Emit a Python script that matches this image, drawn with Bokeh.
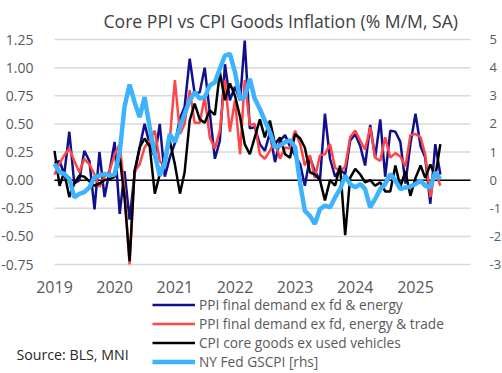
import pandas as pd
from bokeh.plotting import figure
from bokeh.models import (Range1d, LinearAxis, FixedTicker, NumeralTickFormatter,
                          DatetimeTickFormatter, Legend, LegendItem, Label)
from bokeh.embed import file_html
from bokeh.resources import INLINE

dates = pd.date_range("2019-01-01", periods=78, freq="MS")

ppi_core = [0.15, 0.17, 0.05, 0.43, -0.03, 0.0, 0.26, 0.17, -0.26, 0.25, -0.15, 0.08,
            0.34, -0.3, 0.08, -0.35, 0.05, 0.29, 0.5, 0.32, 0.2, 0.5, 0.03, 0.2,
            0.33, 0.55, 0.65, 1.08, 0.77, 0.78, 1.0, 0.6, 0.19, 0.35, 1.03, 0.71,
            0.83, 0.71, 1.24, 0.46, 0.47, 0.32, 0.26, 0.42, 0.16, 0.35, 0.4, 0.3,
            0.22, 0.14, -0.05, 0.2, 0.08, 0.0, 0.59, 0.19, 0.03, 0.1, 0.05, 0.35,
            0.41, 0.3, 0.13, 0.49, 0.2, 0.54, 0.03, 0.44, 0.43, 0.34, -0.03, 0.32,
            0.59, 0.3, 0.2, -0.21, 0.32, 0.05]

ppi_ex_trade = [0.05, 0.15, 0.22, 0.28, 0.17, 0.07, 0.19, 0.14, 0.05, -0.06, 0.03, 0.08,
                0.23, 0.32, -0.09, -0.75, 0.08, 0.14, 0.29, 0.35, 0.44, 0.17, 0.12, 0.36,
                0.89, 0.41, 0.5, 0.8, 0.51, 0.51, 0.74, 0.38, 0.28, 0.44, 0.89, 0.43,
                0.71, 0.23, 0.89, 0.49, 0.5, 0.23, 0.19, 0.26, 0.35, 0.19, 0.29, 0.28,
                0.44, 0.32, 0.13, 0.22, 0.02, 0.22, 0.23, 0.32, 0.11, 0.08, 0.12, 0.38,
                0.44, 0.35, 0.27, 0.47, 0.2, 0.17, 0.38, 0.2, 0.24, 0.21, 0.12, 0.4,
                0.41, 0.38, 0.23, -0.15, 0.08, -0.05]

cpi_goods = [0.26, -0.05, 0.07, -0.15, -0.03, 0.04, 0.03, -0.01, -0.05, -0.03, 0.0, 0.01,
             0.03, 0.2, -0.15, -0.72, 0.08, 0.29, 0.37, 0.3, -0.12, 0.05, 0.2, 0.35,
             0.14, -0.12, 0.07, 0.53, 0.68, 0.54, 0.51, 0.62, 0.58, 0.96, 0.71, 0.86,
             0.75, 0.56, 0.32, 0.23, 0.38, 0.54, 0.38, 0.53, 0.32, 0.38, 0.23, 0.2,
             0.41, 0.37, 0.29, 0.07, 0.05, 0.0, -0.18, 0.0, -0.05, 0.13, -0.49, 0.02,
             0.1, 0.05, -0.02, 0.0, -0.05, -0.02, -0.1, -0.1, 0.13, -0.06, 0.08, -0.14,
             0.02, 0.13, 0.02, 0.14, 0.03, 0.32]

gscpi = [0.58, 0.28, 0.22, 0.04, -0.61, -0.49, -0.43, -0.26, 0.1, 0.16, 0.22, 0.16,
         0.2, 1.0, 2.6, 3.4, 2.77, 2.24, 2.95, 1.88, 0.93, 0.16, 0.64, 1.64,
         1.35, 1.88, 2.36, 2.83, 3.13, 2.9, 2.95, 3.37, 3.48, 3.96, 4.43, 4.49,
         3.84, 2.89, 2.95, 3.6, 2.89, 2.53, 2.12, 1.7, 1.17, 1.23, 1.35, 1.41,
         1.17, -0.14, -1.09, -1.27, -1.56, -1.03, -0.91, -0.97, -0.61, -0.32, 0.16, -0.14,
         -0.26, -0.14, -0.32, -0.97, -0.67, -0.32, -0.14, 0.22, -0.02, -0.32, -0.26, -0.23,
         -0.14, -0.02, -0.2, -0.26, 0.28, 0.04]

year_ticks = pd.date_range("2019-01-01", "2025-01-01", freq="YS")
left_ticks = [-0.75, -0.5, -0.25, 0.0, 0.25, 0.5, 0.75, 1.0, 1.25]
right_ticks = [-3, -2, -1, 0, 1, 2, 3, 4, 5]

labels = ["PPI final demand ex fd & energy",
          "PPI final demand ex fd, energy & trade",
          "CPI core goods ex used vehicles",
          "NY Fed GSCPI [rhs]"]
colors = ["#10108c", "#ff4545", "#000000", "#3db3ff"]
widths = [2.5, 2.5, 2.5, 4.5]

FONT = "Open Sans"
GREY = "#595959"

W, H = 502, 373
# plot-area placement inside the canvas (pixels)
AX_L, AX_R, AX_T, AX_B = 54, 470, 39, 264

x_first = pd.Timestamp("2019-01-01")
x_last = pd.Timestamp("2025-12-01")
ppx = (x_last - x_first) / (AX_R - AX_L)
x_start = x_first - AX_L * ppx
x_end = x_last + (W - AX_R) * ppx

y_lo, y_hi = left_ticks[0], left_ticks[-1]
ppy = (y_hi - y_lo) / (AX_B - AX_T)
y_top = y_hi + AX_T * ppy
y_bot = y_lo - (H - AX_B) * ppy
scale_r = right_ticks[-1] / y_hi

p = figure(width=W, height=H, x_axis_type="datetime", output_backend="svg",
           toolbar_location=None, min_border=0,
           x_range=Range1d(x_start, x_end), y_range=Range1d(y_bot, y_top))
p.extra_y_ranges = {"rhs": Range1d(y_bot * scale_r, y_top * scale_r)}
p.outline_line_color = None
p.title.visible = False
p.xgrid.visible = False
p.ygrid.visible = False

x_first_ms = x_first.value // 10**6
x_last_ms = x_last.value // 10**6

# gridlines limited to plot area
p.segment(x0=[x_first] * len(left_ticks), x1=[x_last] * len(left_ticks),
          y0=left_ticks, y1=left_ticks, line_color="#d9d9d9", line_width=1.5)
p.segment(x0=[x_first], x1=[x_last], y0=[0], y1=[0], line_color="black", line_width=1.5)

ya = p.yaxis[0]
ya.fixed_location = x_first_ms
ya.ticker = FixedTicker(ticks=left_ticks)
ya.formatter = NumeralTickFormatter(format="0.00")
ya.major_label_standoff = 15
ya.major_label_text_font_size = "14px"
ra = LinearAxis(y_range_name="rhs", ticker=FixedTicker(ticks=right_ticks),
                formatter=NumeralTickFormatter(format="0"), fixed_location=x_last_ms)
ra.major_label_standoff = 13
ra.major_label_text_font_size = "13px"
p.add_layout(ra, "right")
for ax in (ya, ra):
    ax.axis_line_color = None
    ax.major_tick_line_color = None
    ax.minor_tick_line_color = None
    ax.major_label_text_font = FONT
    ax.major_label_text_color = GREY

xa = p.xaxis[0]
xa.fixed_location = y_lo
xa.ticker = FixedTicker(ticks=[t.value // 10**6 for t in year_ticks])
xa.formatter = DatetimeTickFormatter(years="%Y", months="%Y", days="%Y")
xa.axis_line_color = None
xa.major_tick_line_color = None
xa.minor_tick_line_color = None
xa.major_label_standoff = 10
xa.major_label_text_font = FONT
xa.major_label_text_font_size = "16px"
xa.major_label_text_color = GREY

r1 = p.line(dates, ppi_core, line_color=colors[0], line_width=widths[0])
r2 = p.line(dates, ppi_ex_trade, line_color=colors[1], line_width=widths[1])
r3 = p.line(dates, cpi_goods, line_color=colors[2], line_width=widths[2])
r4 = p.line(dates, gscpi, line_color=colors[3], line_width=widths[3], y_range_name="rhs")

legend = Legend(items=[LegendItem(label=l, renderers=[r]) for l, r in zip(labels, [r1, r2, r3, r4])],
                location=(152, 2), orientation="vertical",
                glyph_width=43, glyph_height=19, label_height=19, label_standoff=4,
                spacing=0, padding=0, margin=0,
                border_line_color=None, background_fill_alpha=0,
                label_text_font=FONT, label_text_font_size="13.7px", label_text_color=GREY)
p.add_layout(legend, "center")

p.add_layout(Label(x=16, y=19, x_units="screen", y_units="screen", text="Source: BLS, MNI",
                   text_font=FONT, text_font_size="14.2px", text_color="#262626",
                   text_baseline="middle", text_align="left"))

p.add_layout(Label(x=103, y=H - 20, x_units="screen", y_units="screen",
                   text="Core PPI vs CPI Goods Inflation (% M/M, SA)",
                   text_font=FONT, text_font_size="17.6px", text_color="#404040",
                   text_baseline="middle", text_align="left"))

open("out.html", "w").write(file_html(p, INLINE))
